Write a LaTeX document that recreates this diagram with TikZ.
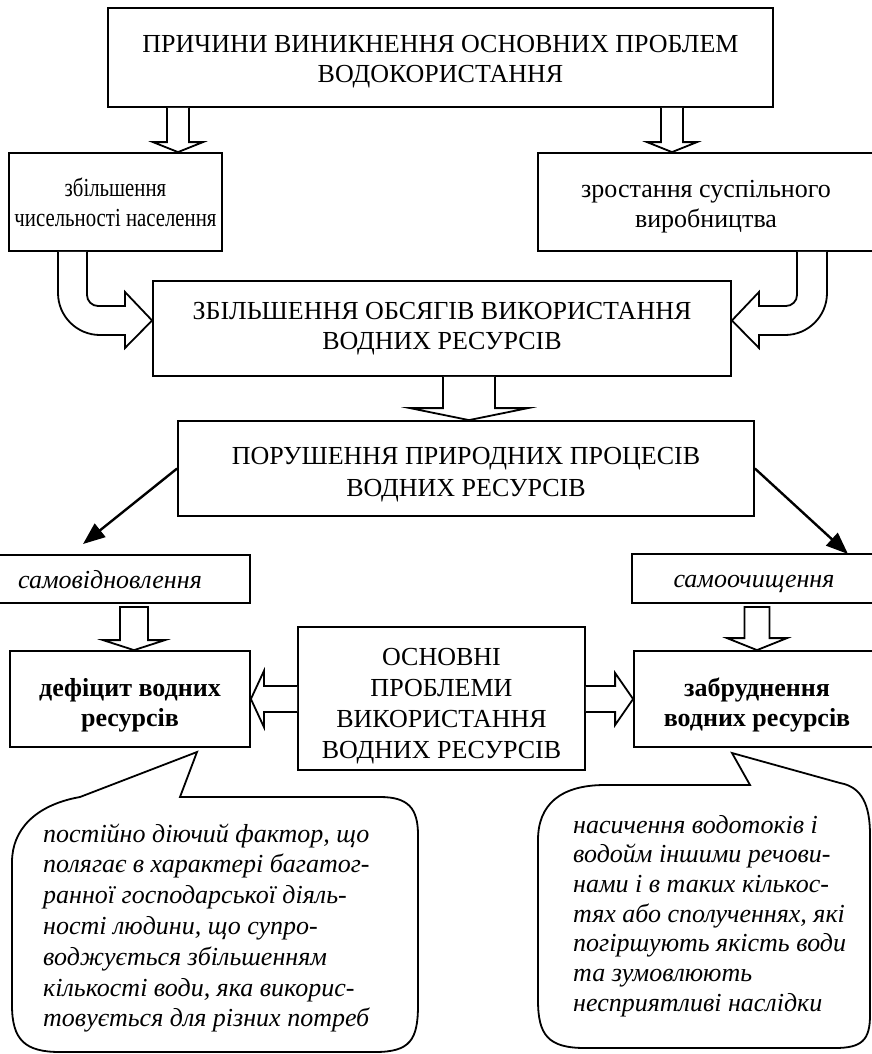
\documentclass[tikz,border=0pt]{standalone}
\usepackage{fontspec}
\setmainfont{Liberation Serif}
\newfontfamily\narrowfont[FakeStretch=0.8]{Liberation Serif}
\usetikzlibrary{arrows.meta,calc}

% hollow block arrow pointing down: start, tip, shaft half-width, head half-width, head length
\newcommand{\vblock}[6][]{%
  \draw[blockline] let \p1=#2, \p2=#3 in
    ({\x2-#4},\y1) -- ({\x2-#4},{\y2+#6}) -- ({\x2-#5},{\y2+#6}) -- (\p2)
    -- ({\x2+#5},{\y2+#6}) -- ({\x2+#4},{\y2+#6}) -- ({\x2+#4},\y1) #1;
}
% hollow block arrow, horizontal (signed head length: + points left, - points right)
\newcommand{\hblock}[5]{%
  \draw[blockline] let \p1=#1, \p2=#2 in
    (\x1,{\y2+#3}) -- ({\x2+#5},{\y2+#3}) -- ({\x2+#5},{\y2+#4}) -- (\p2)
    -- ({\x2+#5},{\y2-#4}) -- ({\x2+#5},{\y2-#3}) -- (\x1,{\y2-#3});
}

\tikzset{
  box/.style={draw, line width=1.8pt, inner sep=0pt, align=center,
    font=\fontsize{26}{30}\selectfont},
  blockline/.style={line width=1.8pt, line join=miter, fill=white, draw},
  note/.style={line width=1.8pt},
  notetext/.style={align=left, inner sep=0pt, anchor=west},
  ptr/.style={line width=2.4pt, -{Triangle[length=22pt,width=17pt]}},
}

\begin{document}
\begin{tikzpicture}[x=1pt, y=-1pt]
    \useasboundingbox (0,0) rectangle (872,1054);

    % Causes
    \node[box, minimum width=665, minimum height=99, text height=50, text depth=0] (top) at (440.5,57.5)
        {ПРИЧИНИ ВИНИКНЕННЯ ОСНОВНИХ ПРОБЛЕМ\\ВОДОКОРИСТАННЯ};
    \node[box, minimum width=213, minimum height=98,
        font=\fontsize{26}{30}\narrowfont] (pop) at (115.5,202)
        {збільшення\\чисельності населення};
    \node[box, minimum width=336, minimum height=98, text height=50, text depth=0] (prod) at (706,202)
        {зростання суспільного\\виробництва};

    % Consequences
    \node[box, minimum width=578, minimum height=95] (vol) at (442,328.5)
        {ЗБІЛЬШЕННЯ ОБСЯГІВ ВИКОРИСТАННЯ\\ВОДНИХ РЕСУРСІВ};
    \node[box, minimum width=576, minimum height=95, text height=55, text depth=0,
        font=\fontsize{26}{31.5}\selectfont] (dist) at (466,468.5)
        {ПОРУШЕННЯ ПРИРОДНИХ ПРОЦЕСІВ\\ВОДНИХ РЕСУРСІВ};

    % Disturbed processes
    \node[box, minimum width=280, minimum height=48, text height=24, text depth=6,
        font=\fontsize{26}{30}\selectfont\itshape] (renew) at (110,579) {самовідновлення};
    \node[box, minimum width=244, minimum height=49, text height=24, text depth=6,
        font=\fontsize{26}{30}\selectfont\itshape] (clean) at (754,578.5) {самоочищення};

    % Main problems
    \node[box, minimum width=240, minimum height=96, text height=54, text depth=0,
        font=\fontsize{26}{30}\selectfont\bfseries] (deficit) at (130,699)
        {дефіцит водних\\ресурсів};
    \node[box, minimum width=287, minimum height=143, text height=120, text depth=0,
        font=\fontsize{26}{31}\selectfont] (main) at (441.5,698.5)
        {ОСНОВНІ\\ПРОБЛЕМИ\\ВИКОРИСТАННЯ\\ВОДНИХ РЕСУРСІВ};
    \node[box, minimum width=246, minimum height=96, text height=54, text depth=0,
        font=\fontsize{26}{30}\selectfont\bfseries] (pollution) at (757,699)
        {забруднення\\водних ресурсів};

    % Block arrows
    \vblock{(178,0 |- top.south)}{(178,0 |- pop.north)}{11}{25}{10}
    \vblock{(672,0 |- top.south)}{(672,0 |- prod.north)}{11}{25}{10}
    \vblock{(469,0 |- vol.south)}{(469,0 |- dist.north)}{26}{59}{12}
    \vblock[-- cycle]{(134,607)}{(134,0 |- deficit.north)}{14}{31}{10}
    \vblock[-- cycle]{(757,607)}{(757,0 |- pollution.north)}{12.5}{30}{12}
    \hblock{(main.west)}{(deficit.east)}{13}{28}{13}
    \hblock{(main.east)}{(pollution.west)}{13}{26}{(-18)}

    % Curved block arrows into the volume box
    \draw[blockline] (87,0 |- pop.south) -- (87,295) arc[start angle=180, end angle=90, radius=11]
        -- (125,306) -- (125,292) -- ([yshift=8pt]vol.west) -- (125,348) -- (125,335) -- (100,335)
        arc[start angle=90, end angle=180, radius=42] -- (58,0 |- pop.south);
    \draw[blockline] (797,0 |- prod.south) -- (797,295) arc[start angle=0, end angle=90, radius=11]
        -- (759,306) -- (759,292) -- ([yshift=8pt]vol.east) -- (759,348) -- (759,335) -- (785,335)
        arc[start angle=90, end angle=0, radius=42] -- (827,0 |- prod.south);

    % Thin arrows
    \coordinate (lefttip) at (83,544);
    \coordinate (righttip) at (848,554);
    \draw[ptr] (dist.west) -- (lefttip);
    \draw[ptr] (dist.east) -- (righttip);

    % Callouts
    \draw[note] (180,797) -- (197,752) -- (80,797)
        .. controls (35,805) and (12,830) .. (12,862) -- (12,1005)
        .. controls (12,1040) and (25,1052) .. (60,1052) -- (375,1052)
        .. controls (410,1052) and (418,1040) .. (418,1005) -- (418,835)
        .. controls (418,808) and (408,797) .. (380,797) -- cycle;
    \node[notetext, font=\fontsize{26}{30.8}\selectfont\itshape] (note1) at (43,928)
        {постійно діючий фактор, що\\полягає в характері багатог-\\ранної господарської діяль-\\ності людини, що супро-\\воджується збільшенням\\кількості води, яка викорис-\\товується для різних потреб};

    \draw[note] (750,785) -- (732,753) -- (840,783)
        .. controls (862,787) and (870,805) .. (870,835) -- (870,1015)
        .. controls (870,1040) and (862,1048) .. (835,1048) -- (585,1048)
        .. controls (548,1048) and (538,1035) .. (538,1000) -- (538,840)
        .. controls (538,805) and (560,785) .. (605,785) -- cycle;
    \node[notetext, font=\fontsize{26}{29.7}\selectfont\itshape] (note2) at (573,916)
        {насичення водотоків і\\водойм іншими речови-\\нами і в таких кількос-\\тях або сполученнях, які\\погіршують якість води\\та зумовлюють\\несприятливі наслідки};
\end{tikzpicture}
\end{document}
